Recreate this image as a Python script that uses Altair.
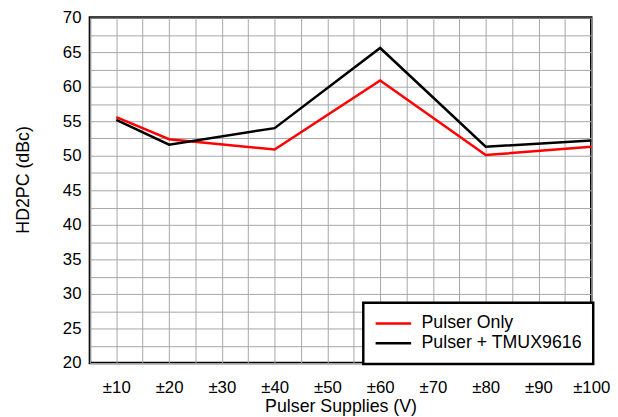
import altair as alt
import pandas as pd

supplies = [10, 20, 40, 60, 80, 100]
pulser_only = [55.6, 52.4, 50.9, 60.9, 50.1, 51.3]
pulser_tmux = [55.2, 51.6, 54.0, 65.6, 51.3, 52.2]
series_names = ["Pulser Only", "Pulser + TMUX9616"]
series_colors = ["#ff0000", "#000000"]

x_ticks = [5 * i for i in range(1, 21)]          # grid every 5 V, labels every 10 V
y_ticks = [20 + 2.5 * i for i in range(0, 21)]    # grid every 2.5 dBc, labels every 5

rows = []
for s, a, b in zip(supplies, pulser_only, pulser_tmux):
    rows.append({"supply": s, "hd2": a, "series": series_names[0]})
    rows.append({"supply": s, "hd2": b, "series": series_names[1]})
df = pd.DataFrame(rows)

FONT = "Liberation Sans"

chart = (
    alt.Chart(df)
    .mark_line(strokeWidth=2.5)
    .encode(
        x=alt.X(
            "supply:Q",
            scale=alt.Scale(domain=[5, 100], nice=False, zero=False),
            axis=alt.Axis(
                title="Pulser Supplies (V)",
                values=x_ticks,
                labelExpr="datum.value % 10 == 0 ? '±' + datum.value : ''",
                labelPadding=17,
                titlePadding=2,
                labelFlush=False,
                labelOverlap=False,
            ),
        ),
        y=alt.Y(
            "hd2:Q",
            scale=alt.Scale(domain=[20, 70], nice=False, zero=False),
            axis=alt.Axis(
                title="HD2PC (dBc)",
                values=y_ticks,
                labelExpr="datum.value % 5 == 0 ? datum.value : ''",
                labelPadding=9,
                titleX=-58,
                titleY=164,
                titleBaseline="bottom",
                labelOverlap=False,
            ),
        ),
        color=alt.Color(
            "series:N",
            scale=alt.Scale(domain=series_names, range=series_colors),
            sort=series_names,
            legend=alt.Legend(
                title=None,
                orient="none",
                legendX=277,
                legendY=289,
                symbolType="stroke",
                symbolSize=1296,
                symbolStrokeWidth=2.5,
                labelOffset=9,
                clipHeight=20,
                rowPadding=0,
                padding=11,
                labelLimit=260,
                fillColor="white",
                strokeColor="black",
            ),
        ),
    )
    .properties(
        width=508,
        height=350,
        autosize=alt.AutoSizeParams(type="none"),
        padding={"left": 83, "top": 7, "right": 19, "bottom": 52},
    )
    .configure_view(stroke="black", strokeWidth=2.5)
    .configure_axis(
        domain=False,
        ticks=False,
        grid=True,
        gridColor="#a6a6a6",
        gridWidth=1,
        labelFont=FONT,
        labelFontSize=17,
        labelColor="black",
        titleFont=FONT,
        titleFontSize=18,
        titleFontWeight="normal",
        titleColor="black",
    )
    .configure_legend(
        labelFont=FONT,
        labelFontSize=18,
        labelColor="black",
        strokeWidth=2.5,
    )
)

chart.save("out.html", embed_options={"renderer": "svg", "actions": False})
